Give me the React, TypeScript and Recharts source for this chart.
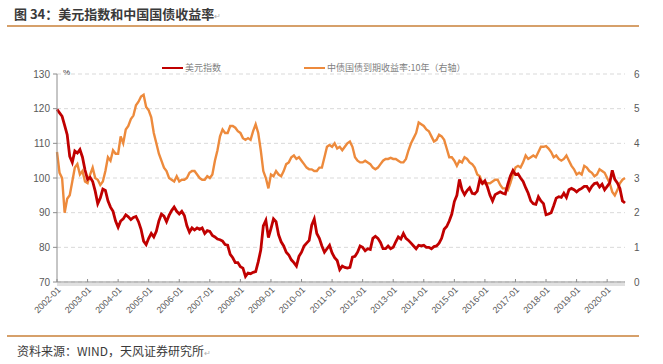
import { CartesianGrid, Line, LineChart, XAxis, YAxis } from "recharts";

const startYear = 2002;
const yearTicks = [2002, 2003, 2004, 2005, 2006, 2007, 2008, 2009, 2010, 2011, 2012, 2013, 2014, 2015, 2016, 2017, 2018, 2019, 2020];
const leftTicks = [70, 80, 90, 100, 110, 120, 130];
const rightTicks = [0, 1, 2, 3, 4, 5, 6];

// monthly, 2002-01 .. 2020-08
const dollarIndex = [
  119.8, 118.8, 117.8, 115.2, 112.5, 106.2, 104.5, 107.8, 107.2, 108.2, 106.0, 102.3,
  99.6, 100.2, 99.0, 96.2, 92.6, 94.2, 96.8, 96.4, 93.4, 91.6, 90.4, 87.6,
  85.8, 87.6, 88.2, 89.4, 88.8, 88.0, 88.6, 88.9, 87.4, 85.2, 81.8, 80.8,
  82.6, 84.0, 83.0, 84.6, 87.6, 89.6, 89.0, 87.4, 89.2, 90.6, 91.6, 90.4,
  89.6, 90.4, 89.2, 86.2, 84.4, 85.6, 85.0, 85.6, 85.2, 85.6, 84.0, 84.8,
  84.6, 83.4, 83.0, 82.4, 82.2, 81.8, 80.8, 80.6, 78.0, 77.0, 75.6, 75.6,
  74.4, 74.0, 71.6, 72.6, 72.4, 72.8, 73.0, 75.8, 79.2, 86.2, 87.8, 82.8,
  85.4, 88.2, 87.4, 83.6, 81.6, 80.4, 78.6, 77.8, 76.4, 75.6, 74.6, 77.4,
  78.6, 80.4, 81.2, 82.0, 86.4, 88.2, 84.0, 82.6, 80.4, 78.6, 79.6, 80.6,
  78.4, 77.0, 76.2, 73.6, 74.6, 74.2, 74.0, 74.2, 77.2, 77.4, 78.6, 80.4,
  80.0, 79.0, 79.6, 79.4, 82.6, 83.2, 82.6, 81.4, 79.6, 79.6, 80.4, 79.6,
  80.0, 81.6, 83.0, 82.4, 84.0, 82.6, 82.0, 81.2, 80.4, 79.6, 80.6, 80.4,
  80.6, 80.0, 80.0, 79.6, 80.2, 80.4, 81.2, 82.6, 85.2, 86.0, 87.6, 89.6,
  93.2, 95.0, 99.6, 96.6, 95.2, 96.4, 97.2, 95.6, 95.4, 96.2, 99.6, 98.4,
  99.2, 97.4, 95.0, 93.4, 95.2, 95.6, 96.0, 95.6, 95.4, 98.2, 100.6, 102.2,
  101.0, 101.2, 100.0, 99.0, 97.2, 95.6, 93.4, 92.6, 92.4, 94.6, 93.4, 92.6,
  89.4, 89.6, 90.0, 92.0, 94.2, 94.6, 94.4, 95.6, 94.4, 96.6, 97.0, 96.6,
  96.0, 96.6, 97.0, 97.6, 97.6, 96.4, 97.6, 98.4, 98.6, 97.4, 98.2, 96.6,
  97.6, 98.6, 102.2, 99.6, 98.6, 97.0, 93.4, 92.8,
];

const cgbYield10y = [
  3.75, 3.15, 3.0, 2.0, 2.4, 2.5, 2.9, 3.3, 3.4, 3.1, 3.2, 2.9,
  2.85, 3.1, 3.3, 3.0, 2.95, 2.8, 2.9, 3.2, 3.6, 3.5, 3.8, 3.7,
  3.7, 4.2, 4.0, 4.4, 4.5, 4.7, 4.8, 5.1, 5.2, 5.35, 5.4, 5.05,
  4.95, 4.75, 4.3, 4.0, 3.7, 3.5, 3.3, 3.2, 3.0, 2.95, 2.9, 3.05,
  2.9, 2.95, 2.95, 3.0, 3.15, 3.2, 3.2, 3.1, 3.0, 2.95, 2.95, 3.05,
  3.0, 3.1, 3.5, 3.8, 4.2, 4.4, 4.3, 4.3, 4.5, 4.5, 4.45, 4.35,
  4.3, 4.15, 4.1, 4.15, 4.1, 4.35, 4.55, 4.3, 3.8, 3.2, 3.0, 2.7,
  3.1, 3.05, 3.2, 3.1, 3.05, 3.2, 3.4, 3.45, 3.6, 3.65, 3.55, 3.6,
  3.5, 3.4, 3.3, 3.25, 3.25, 3.2, 3.2, 3.3, 3.3, 3.6, 3.9, 3.95,
  3.9, 4.0, 3.85, 3.9, 3.8, 3.9, 4.0, 4.05, 3.9, 3.6, 3.5, 3.45,
  3.45, 3.5, 3.45, 3.4, 3.3, 3.25, 3.3, 3.4, 3.5, 3.55, 3.55, 3.58,
  3.55, 3.55, 3.5, 3.45, 3.45, 3.55, 3.8, 4.0, 4.15, 4.3, 4.6, 4.55,
  4.5, 4.4, 4.35, 4.2, 4.05, 4.1, 4.25, 4.2, 4.1, 3.85, 3.6, 3.6,
  3.5, 3.35, 3.5, 3.45, 3.6, 3.55, 3.45, 3.4, 3.3, 3.1, 3.05, 2.85,
  2.85, 2.85, 2.85, 2.9, 2.95, 2.95, 2.8, 2.7, 2.7, 2.65, 2.85, 3.1,
  3.3, 3.35, 3.3, 3.45, 3.65, 3.55, 3.6, 3.65, 3.6, 3.75, 3.9, 3.9,
  3.92, 3.85, 3.75, 3.6, 3.65, 3.55, 3.5, 3.55, 3.65, 3.5, 3.35, 3.25,
  3.1, 3.15, 3.1, 3.35, 3.3, 3.2, 3.15, 3.05, 3.1, 3.25, 3.2, 3.15,
  3.0, 2.85, 2.6, 2.5, 2.65, 2.85, 2.95, 3.0,
];

const chartData = dollarIndex.map((value, i) => ({
  t: startYear + i / 12,
  dxy: value,
  cgb: cgbYield10y[i],
}));
const lastT = chartData[chartData.length - 1].t;

const legendItems = [
  { name: "美元指数", color: "#c00000", left: 162 },
  { name: "中债国债到期收益率:10年（右轴）", color: "#ed8a3c", left: 304 },
];

const tickFont = "'Liberation Sans', Arial, sans-serif";

function YearTick({ x, y, payload }: any) {
  return (
    <g transform={`translate(${x},${y})`}>
      <line x1={0} x2={0} y1={0} y2={-3} stroke="#8c8c8c" />
      <text transform="rotate(-45)" x={-3} y={9} textAnchor="end" fontSize={9} fill="#595959" fontFamily={tickFont}>
        {`${payload.value}-01`}
      </text>
    </g>
  );
}

export default function App() {
  return (
    <div style={{ position: "absolute", left: 0, top: 0, width: 663, height: 364, background: "#fff", fontFamily: "'Noto Sans CJK SC', sans-serif" }}>
      <div style={{ position: "absolute", left: 14, top: 4, fontSize: 13, fontWeight: 700, color: "#3a3a3a", whiteSpace: "nowrap" }}>
        图 34：美元指数和中国国债收益率<span style={{ color: "#b0b0b0", fontWeight: 400, fontSize: 8 }}>↵</span>
      </div>
      <div style={{ position: "absolute", left: 7, top: 25, width: 632, height: 1.5, background: "#d6a06a" }} />

      {legendItems.map((item) => (
        <div key={item.name} style={{ position: "absolute", left: item.left, top: 61, display: "flex", alignItems: "center", fontSize: 9, color: "#7f7f7f", whiteSpace: "nowrap" }}>
          <span style={{ display: "inline-block", width: 21, height: 2, background: item.color, marginRight: 2 }} />
          {item.name}
        </div>
      ))}
      <div style={{ position: "absolute", left: 63, top: 68, fontSize: 8, color: "#333", fontFamily: tickFont }}>%</div>

      <div style={{ position: "absolute", left: 57, top: 283, width: 568, height: 3, background: "#e0e0e0" }} />

      <div style={{ position: "absolute", left: 0, top: 0 }}>
        <LineChart width={663} height={364} data={chartData} margin={{ top: 74, right: 8, bottom: 32, left: 17 }}>
          <CartesianGrid yAxisId="left" vertical={false} stroke="#d9d9d9" strokeDasharray="4 3" />
          <XAxis
            dataKey="t"
            type="number"
            domain={[startYear, lastT]}
            ticks={yearTicks}
            interval={0}
            height={50}
            tick={<YearTick />}
            tickLine={false}
            tickSize={0}
            tickMargin={0}
            axisLine={{ stroke: "#8c8c8c" }}
          />
          <YAxis
            yAxisId="left"
            domain={[70, 130]}
            ticks={leftTicks}
            interval={0}
            width={40}
            tickSize={4}
            tickMargin={3}
            tick={{ fontSize: 10, fill: "#595959", fontFamily: tickFont }}
            tickLine={{ stroke: "#8c8c8c" }}
            axisLine={{ stroke: "#8c8c8c" }}
          />
          <YAxis
            yAxisId="right"
            orientation="right"
            domain={[0, 6]}
            ticks={rightTicks}
            interval={0}
            width={30}
            tickSize={4}
            tickMargin={5}
            tick={{ fontSize: 10, fill: "#595959", fontFamily: tickFont, textAnchor: "start" }}
            tickLine={false}
            axisLine={false}
          />
          <Line yAxisId="right" dataKey="cgb" stroke="#ed8a3c" strokeWidth={2.4} dot={false} isAnimationActive={false} />
          <Line yAxisId="left" dataKey="dxy" stroke="#c00000" strokeWidth={2.8} dot={false} isAnimationActive={false} />
        </LineChart>
      </div>

      <div style={{ position: "absolute", left: 7, top: 335, width: 632, height: 1.5, background: "#d6a06a" }} />
      <div style={{ position: "absolute", left: 17, top: 342, fontSize: 12, color: "#3a3a3a", whiteSpace: "nowrap" }}>
        资料来源：WIND，天风证券研究所<span style={{ color: "#b0b0b0", fontSize: 8 }}>↵</span>
      </div>
    </div>
  );
}
